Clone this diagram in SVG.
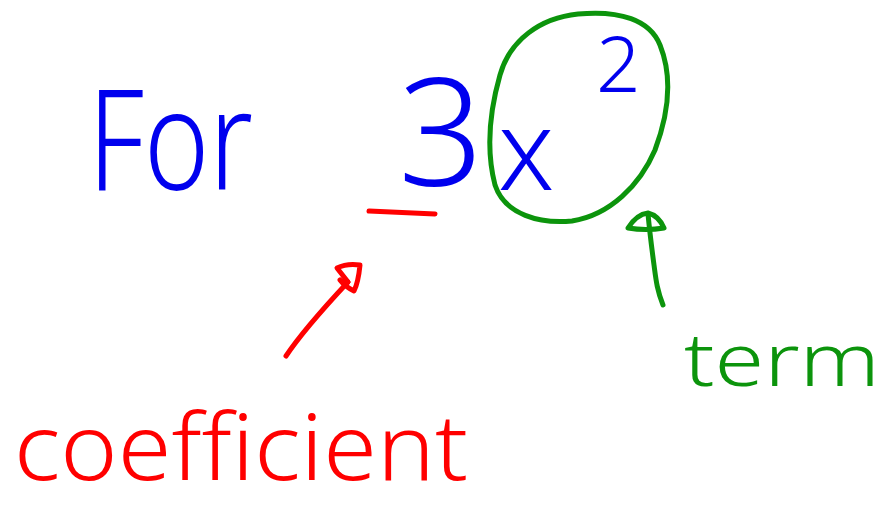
<svg xmlns="http://www.w3.org/2000/svg" width="884" height="511" viewBox="0 0 884 511">
<style>
.b{fill:#0000ee;font-family:"Noto Sans","DejaVu Sans",sans-serif;font-weight:300}
.r{fill:#ff0000;font-family:"Noto Sans","DejaVu Sans",sans-serif;font-weight:300}
.g{fill:#0c940c;font-family:"Noto Sans","DejaVu Sans",sans-serif;font-weight:300}
.sr{fill:none;stroke:#ff0000;stroke-width:5;stroke-linecap:round;stroke-linejoin:round}
.sg{fill:none;stroke:#0c940c;stroke-width:5;stroke-linecap:round;stroke-linejoin:round}
</style>
<rect width="884" height="511" fill="#ffffff"/>
<g id="expression">
<text class="b" x="88" y="190" font-size="140" textLength="165" lengthAdjust="spacingAndGlyphs">For</text>
<text class="b" x="398" y="186" font-size="150">3</text>
<text class="b" x="498" y="190" font-size="112">x</text>
<text class="b" x="596" y="92" font-size="78">2</text>
</g>
<g id="underline"><path class="sr" d="M369,211 L435,214"/></g>
<g id="term-circle"><path class="sg" d="M578,14 C620,10 650,20 660,45 C672,75 670,110 655,150 C640,185 610,215 572,221 C540,224 505,215 495,185 C486,150 490,110 500,75 C510,40 540,18 578,14 Z"/></g>
<g id="connectors">
<path class="sr" d="M286,356 C300,335 320,312 348,282"/>
<path class="sr" d="M348,282 L337,268 C345,264 353,264 360,265 C359,275 358,283 354,291 C348,288 343,284 340,280"/>
<path class="sg" d="M663,305 C657,290 656,280 654,265 C652,250 650,235 648,214"/>
<path class="sg" d="M628,228 C633,220 640,214 648,213 C656,215 661,221 664,228 C652,230 640,230 628,228 Z"/>
</g>
<g id="label-coefficient"><text class="r" x="14" y="480" font-size="92" textLength="454" lengthAdjust="spacingAndGlyphs">coefficient</text></g>
<g id="label-term"><text class="g" x="684" y="386" font-size="74" textLength="196" lengthAdjust="spacingAndGlyphs">term</text></g>
</svg>
